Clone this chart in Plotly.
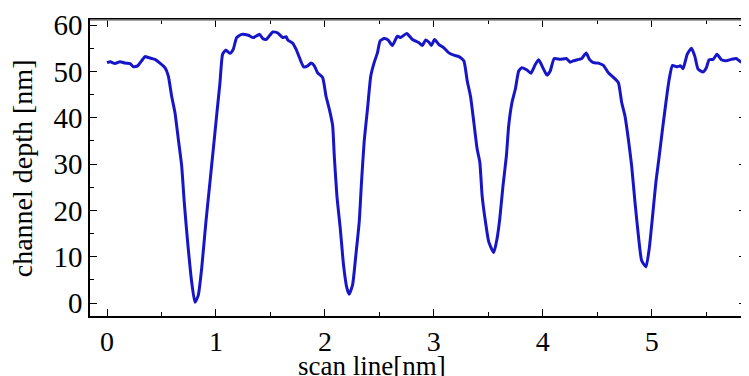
import plotly.graph_objects as go

scan_x = [0.0, 0.03, 0.073, 0.119, 0.165, 0.211, 0.242, 0.281, 0.318, 0.349, 0.379, 0.41, 0.44,
          0.486, 0.532, 0.563, 0.593, 0.624, 0.654, 0.685, 0.709, 0.74, 0.777, 0.807, 0.838,
          0.869, 0.908, 0.945, 0.976, 1.006, 1.037, 1.061, 1.089, 1.128, 1.159, 1.19, 1.236,
          1.297, 1.342,
          1.40, 1.43, 1.461, 1.522, 1.567, 1.613, 1.644, 1.659, 1.705, 1.735, 1.766, 1.805,
          1.842, 1.872, 1.903, 1.933, 1.979, 2.01, 2.04, 2.071, 2.086, 2.11, 2.141, 2.171,
          2.202, 2.223, 2.254, 2.284, 2.315, 2.336, 2.36, 2.391, 2.421, 2.452, 2.482, 2.507,
          2.543, 2.58, 2.619, 2.665, 2.696, 2.751, 2.803,
          2.864, 2.894, 2.925, 2.955, 2.977, 3.007, 3.047, 3.092, 3.138, 3.184, 3.23, 3.275,
          3.306, 3.336, 3.367, 3.397, 3.422, 3.443, 3.474, 3.504, 3.55, 3.58, 3.605, 3.635,
          3.666, 3.687, 3.717, 3.748, 3.779, 3.809, 3.855, 3.891, 3.931, 3.962, 4.007, 4.038,
          4.068, 4.105, 4.16, 4.215, 4.251,
          4.282, 4.328, 4.358, 4.398, 4.428, 4.465, 4.51, 4.556, 4.602, 4.648, 4.693, 4.724,
          4.754, 4.785, 4.815, 4.846, 4.877, 4.907, 4.947, 4.977, 5.008, 5.038, 5.069, 5.099,
          5.13, 5.16, 5.19, 5.227, 5.264, 5.288, 5.325, 5.364, 5.395, 5.425, 5.471, 5.501,
          5.526, 5.563, 5.599, 5.639, 5.684, 5.729, 5.776, 5.822, 5.862]

depth = [51.9, 52.1, 51.7, 52.1, 51.8, 51.7, 51.0, 51.2, 52.3, 53.2, 53.0, 52.8, 52.6,
         51.8, 50.8, 49.0, 44.7, 41.1, 35.5, 29.7, 21.8, 13.2, 4.6, 0.15, 1.7,
         7.5, 17.5, 26.1, 33.3, 40.4, 47.6, 53.7, 54.6, 53.9, 54.8, 57.3, 58.0,
         57.8, 57.3,
         58.0, 57.1, 56.9, 58.5, 58.3, 57.3, 57.5, 56.8, 56.1, 54.8, 53.0, 51.0,
         51.2, 51.8, 51.2, 49.7, 48.7, 44.7, 41.9, 38.3, 31.8, 23.2, 16.1, 8.2,
         3.2, 1.9, 3.9, 10.3, 17.5, 26.1, 34.7, 41.9, 49.0, 51.9, 54.0, 56.6,
         57.1, 56.8, 55.6, 57.6, 57.3, 58.2, 56.9,
         56.2, 55.6, 56.8, 56.3, 55.6, 56.9, 55.8, 55.1, 54.0, 53.5, 53.2, 52.3,
         48.0, 44.7, 39.0, 33.3, 30.4, 23.2, 17.5, 13.2, 10.9, 13.9, 18.2, 25.4,
         31.8, 38.3, 43.3, 46.2, 50.1, 50.8, 50.3, 49.6, 51.5, 52.5, 50.5, 49.2,
         50.1, 52.8, 52.6, 52.8, 52.0,
         52.3, 52.6, 52.8, 54.0, 52.6, 51.9, 51.8, 51.3, 49.7, 48.7, 47.6, 43.3,
         40.4, 35.4, 29.7, 21.8, 14.6, 9.2, 7.8, 11.8, 18.9, 26.1, 31.8, 37.6,
         43.3, 48.3, 51.3, 51.0, 51.2, 50.6, 53.7, 55.0, 53.3, 50.5, 49.9, 50.8,
         52.5, 52.6, 53.7, 52.5, 52.3, 52.6, 52.8, 52.0, 52.3]

x_ticks = [0, 1, 2, 3, 4, 5]
y_ticks = [0, 10, 20, 30, 40, 50, 60]
x_title = "scan line[nm]"
y_title = "channel depth [nm]"

FONT = "Liberation Serif, Times New Roman, serif"

fig = go.Figure()
fig.add_trace(go.Scatter(x=scan_x, y=depth, mode="lines",
                         line=dict(color="#1616c8", width=3, shape="spline", smoothing=0.5),
                         showlegend=False))

axis_common = dict(
    showgrid=False, zeroline=False, showline=True, linecolor="black", linewidth=1.5,
    mirror="ticks", ticks="inside", ticklen=7, tickwidth=1, tickcolor="black",
)

fig.update_xaxes(range=[-0.156, 5.865], tickvals=x_ticks, ticktext=[str(v) for v in x_ticks],
                 tickfont=dict(family=FONT, size=28, color="black"),
                 minor=dict(dtick=0.5, tick0=0, ticks="inside", ticklen=4, tickcolor="black"),
                 **axis_common)
fig.update_yaxes(range=[-2.8, 61.1], tickvals=y_ticks, ticktext=[str(v) for v in y_ticks],
                 tickfont=dict(family=FONT, size=29, color="black"),
                 minor=dict(dtick=5, tick0=0, ticks="inside", ticklen=4, tickcolor="black"),
                 **axis_common)

fig.add_shape(type="line", xref="paper", yref="paper", x0=0, x1=1, y0=1, y1=1,
              line=dict(color="#8a8a8a", width=1.5), layer="above")
fig.add_shape(type="line", xref="paper", yref="paper", x0=1, x1=1, y0=0, y1=1,
              line=dict(color="white", width=2), layer="above")

fig.add_annotation(text=x_title, xref="x", yref="paper", x=2.43, y=-0.112,
                   xanchor="center", yanchor="top", showarrow=False,
                   font=dict(family=FONT, size=27, color="black"))
fig.add_annotation(text=y_title, xref="paper", yref="paper", x=-0.1033, y=0.5,
                   xanchor="center", yanchor="middle", textangle=-90, showarrow=False,
                   font=dict(family=FONT, size=28, color="black"))

# page body has an 8px default margin; figure sized/offset to compensate
fig.update_layout(width=741, height=368, margin=dict(l=82, r=1, t=11, b=60),
                  plot_bgcolor="white", paper_bgcolor="white")

fig.write_html("out.html")
